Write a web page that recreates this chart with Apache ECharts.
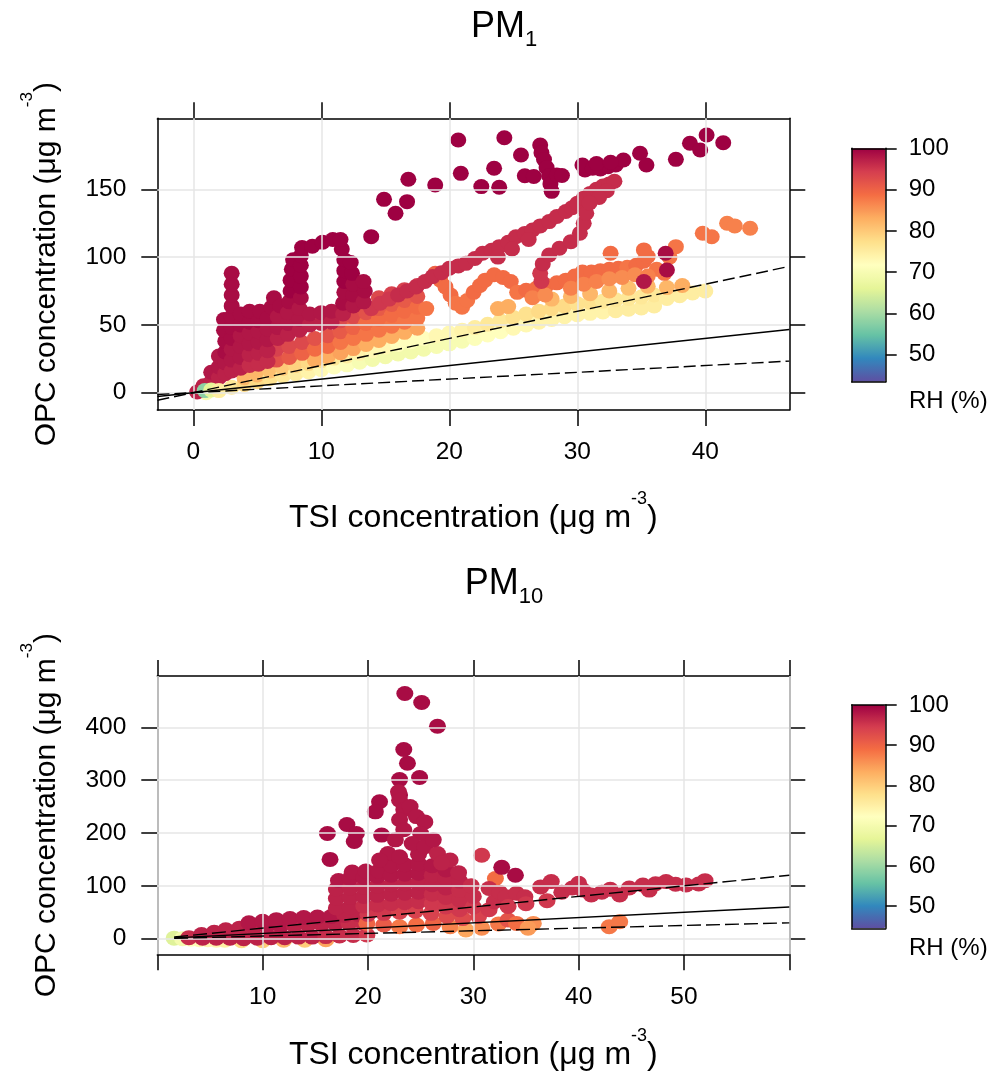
<!DOCTYPE html>
<html>
<head>
<meta charset="utf-8">
<script src="https://cdn.jsdelivr.net/npm/echarts@6/dist/echarts.min.js"></script>
<style>html,body{margin:0;padding:0;background:#fff}#c{width:995px;height:1074px}</style>
</head>
<body>
<div id="c"></div>
<script>
// ---------------- DATA ----------------
// PM1 panel: axis ranges and ticks
const pm1XRange = [-2.81, 46.56];
const pm1YRange = [-12.8, 202.4];
const pm1XTicks = [0, 10, 20, 30, 40];
const pm1YTicks = [0, 50, 100, 150];
// PM10 panel
const pm10XRange = [0, 60];
const pm10YRange = [-29.5, 497];
const pm10XTicks = [0, 10, 20, 30, 40, 50, 60];
const pm10XLabels = [10, 20, 30, 40, 50];
const pm10YTicks = [0, 100, 200, 300, 400];
// Colour bars (RH %)
const rhRange1 = [43.5, 100];
const rhRange2 = [44.5, 100];
const rhTicks = [50, 60, 70, 80, 90, 100];

// Reference lines [x, y] endpoints (1:1, 2:1, 1:2)
const pm1Line11 = [[-2.8, -2.8], [46.56, 46.56]];
const pm1Line21 = [[-2.8, -5.6], [46.56, 93.12]];
const pm1Line12 = [[-2.8, -1.4], [46.56, 23.28]];
const pm10Line11 = [[1.6, 1.6], [60, 60]];
const pm10Line21 = [[1.6, 3.2], [60, 120]];
const pm10Line12 = [[1.6, 0.8], [60, 30]];

// PM1 points: [TSI, OPC, RH]
const pm1Yellow = [
 [1,0,70],[2,2,74],[3,4,76],
 [4,6,78],[4,11,82],[5,8,78],[5,13,82],[6,10.5,77],[6,16,81],[7,12.5,76],[7,18,80],
 [8,14,75],[8,20,79],[9,15.5,74],[9,21.5,78],[10,17,73],[10,23.5,77],[11,19,72],[11,25.5,76],
 [12,20.5,71],[12,27,75],[13,22.5,70],[13,29,74],[14,24.5,69],[14,31,73],[15,26.5,69],[15,33.5,73],
 [16,28.5,69],[16,35.5,72],[17,30,69],[17,37.5,72],[18,32,69],[18,40,72],[19,34,70],[19,42,73],
 [20,36,70],[20,44,73],[21,38,70],[21,46,74],[22,40,71],[22,48,75],[23,42.5,72],[23,50.5,76],
 [24,45,72],[24,53,76],[25,47.5,73],[25,55.5,77],[26,50,73],[26,58,77],[27,52,74],[27,60,78],
 [28,54,74],[28,62,78],[29,56,74],[29,64,78],[30,57.5,74],[30,65.5,77],[31,58.5,74],[31,66.5,77],
 [32,59.5,74],[32,67.5,76],[33,60.5,75],[33,68.5,76],[34,61.5,75],[34,69.5,76],[35,62.5,75],[35,70.5,76],
 [36,64,75],[36,72,76],[37,69.5,75],[38,71.5,75],[39,73.5,75],[40,75,75]
];
const pm1Peach = [
 [9.5,24,83],[10.5,26.5,83],[11.5,29.5,84],[12.5,32.5,84],[13.5,35.5,83],[14.5,38.5,83],
 [15.5,41.5,83],[16.5,44.5,83],[17.5,47.5,84],[23.8,62,83],[24.6,63.5,83],[28,69,82],
 [29.5,71,82],[31,73,82],[32.5,75,82],[34,77,81],[35.5,78.5,82],[37,77.5,82],[38.2,79,83]
];
const pm1Red = [
 [6.5,24,92],[6.5,32,94],[7.5,26,91],[7.5,34,93],[8.5,29,90],[8.5,37,93],[9.5,32,89],[9.5,40,92],
 [10.5,34,89],[10.5,42,92],[11.5,37,88],[11.5,45,91],[11.5,53,93],[12.5,40,88],[12.5,48,90],[12.5,56,93],
 [13.5,43,88],[13.5,51,89],[13.5,59,92],[14.5,46,88],[14.5,54,89],[14.5,62,91],[14.5,70,93],
 [15.5,49,88],[15.5,57,89],[15.5,65,91],[15.5,73,94],[16.5,52,88],[16.5,60,89],[16.5,68,91],[16.5,76,94],
 [17.5,55,88],[17.5,63,89],[17.5,71,92],[17.5,79,95],[18.2,62,88]
];
const pm1Orange = [
 [18.9,88,90],[19.3,83,89],[19.7,78,89],[20.1,72,89],[20.5,66,88],[21.0,63,88],[21.4,68,88],[21.9,74,89],
 [22.4,79,89],[22.8,83,89],[23.5,87,89],[24.2,85,89],[24.8,82,89],
 [25.3,74,88],[26.0,75.5,89],[26.8,77,89],[27.6,79,89],[28.4,81,89],[29.1,83,89],[29.8,86,89],[30.4,89,89],
 [31.1,89,89],[31.8,90,89],[32.5,91,89],[33.2,91.8,89],[33.9,92.5,88],[34.6,94,89],[35.2,97,89],[35.5,100.4,89],
 [36.2,91,88],[36.8,88,88],
 [26.5,70,87],[27.5,72,86],[29.5,77,87],[30.5,80,87],[31.5,82,87],[32.5,84,86],[33.5,85,86],[34.5,87,86],[35.5,86,87],
 [32.6,102.8,89],[35.2,105.3,89],[37.7,107.7,88],[39.8,117.6,88],[40.5,115,88],[41.7,125,87],[42.3,123,87],
 [43.5,121.3,87],[37.2,100,88]
];
const pm1Pink = [
 [13.9,62,95],[14.6,66,95],[15.3,69,95],[16.0,72,96],[16.7,75,96],[17.4,78,96],[18.1,82,96],[18.7,85.6,96],
 [19.4,88.5,96],[20.0,91.8,96],[20.7,93.5,96],[21.3,95.4,96],[22.0,99,96],[22.6,102.8,96],[23.3,105,96],
 [23.9,107.7,96],[24.6,111,96],[25.2,115,96],[25.9,117.5,96],[26.5,120,96],[27.1,123,96],[27.8,126.2,96],
 [28.4,130,96],[29.1,133.6,96],[29.6,136.5,96],[30.0,139.7,96],[30.5,143.5,96],[31.0,147,96],[31.5,150,96],
 [32.0,152.5,96],[32.5,154,96],[32.9,156,96],[32.3,149,96],[31.7,144,96],
 [23.8,100,96],[24.9,106,96],[26.2,113,96],
 [27.2,82,95],[27.1,88,95],[27.3,95,96],[27.8,101.6,96],[28.6,106.5,96],[29.5,111.4,96],[30.2,117.6,96],
 [30.5,124.9,96],[30.7,132.3,96],[30.95,140,96]
];
const pm1Dark = [
 [0.8,5,97],[1.4,8,97],[1.4,15,98],[2.0,11,97],[2.0,19,98],[2.0,27,98],
 [2.5,14,97],[2.5,22,98],[2.5,30,99],[2.5,38,99],[2.4,46,99],[2.4,54,99],
 [3.0,16,97],[3.0,24,98],[3.0,32,98],[3.0,40,99],[3.0,48,99],[3.0,56,99],[3.0,64,99],[3.0,72,99],[3.0,80,99],[3.0,88,99],
 [3.7,18,97],[3.7,26,98],[3.7,34,98],[3.7,42,98],[3.7,50,99],[3.7,58,99],
 [4.4,20,96],[4.4,28,97],[4.4,36,98],[4.4,44,98],[4.4,52,99],[4.4,60,99],
 [5.1,21,96],[5.1,29,97],[5.1,37,98],[5.1,45,98],[5.1,53,99],[5.2,60,99],
 [5.8,23,96],[5.8,31,97],[5.8,39,98],[5.8,47,98],[5.8,55,99],[6.1,63,99],[6.3,70,99],
 [6.6,40,97],[6.6,48,98],[6.6,56,98],[6.8,64,99],
 [7.4,43,97],[7.4,51,98],[7.4,59,98],[7.5,67,99],[7.6,75,100],[7.6,83,100],[7.7,91,100],[7.8,98,100],
 [8.3,46,97],[8.3,54,98],[8.3,62,98],[8.4,70,99],[8.4,78,100],[8.4,86,100],[8.4,94,100],[8.4,101,100],[8.5,107,100],
 [9.1,50,97],[9.1,58,98],[9.3,108,100],[10.0,51,97],[10.0,59,98],[10.1,111,100],
 [10.8,52,97],[10.8,60,98],[10.9,113,100],
 [11.7,58,97],[11.7,66,99],[11.8,74,99],[11.8,82,100],[11.8,90,100],[11.8,98,100],[11.6,106,100],[11.5,113,100],
 [12.5,64,98],[12.5,72,99],[12.5,80,99],[12.4,88,100],[12.3,96,100],
 [13.3,67,98],[13.4,75,99],[13.3,82,99]
];
const pm1Top = [
 [20.7,186.4,100],[24.3,188.1,100],[25.6,175.3,100],[27.1,182.7,100],[27.2,177,100],[27.4,172,100],[27.6,166,100],
 [27.8,160,100],[27.9,154,100],[28.0,148.5,100],[25.9,160,100],[26.6,159.5,100],[28.4,160.6,100],[28.8,160.2,100],
 [23.5,165.5,100],[20.9,161.8,100],[22.5,152,100],[23.9,151.5,100],[18.9,153.2,100],[16.8,157.4,100],[14.9,142.6,100],
 [16.7,140.9,100],[15.8,132.3,100],[13.9,115.1,100],
 [30.6,164.3,100],[30.4,168,100],[31.2,165.5,100],[31.8,165,100],[32.4,166.7,100],[33.0,168,100],[33.6,171.6,100],
 [31.5,169,100],[32.6,170,100],[34.9,176.6,100],[35.4,168,100],[37.7,172.1,100],[38.8,184,100],[39.6,179,100],
 [40.1,190.1,100],[41.4,184.4,100],
 [36.9,102.8,99],[37.0,90.5,99],[35.2,82,98]
];
const pm1Origin = [[0.3,0.5,97],[0.9,1.5,58],[1.4,2,66],[2.0,1.5,75]];

// PM10 points: [TSI, OPC, RH]
const pm10Yellow = [
 [1.6,1,66],[2.4,0,70],[3.2,-1,72],[4.0,-2,73],[4.8,-2,74],[5.6,-3,74],[6.4,-3,75],
 [8,-4,78],[10,-4,80],[12,-3,82],[14,-3,80],[16,-2,84]
];
const pm10Band = [
 [3,2,96],[4.3,1,97],[5.6,1,97],[6.9,1,97],[8.2,0,97],[9.5,1,97],[10.8,2,97],[12.1,2,97],[13.4,3,97],
 [14.7,3,97],[16,4,96],[17.3,5,96],[18.6,6,96],[19.9,7,95],
 [4.2,8,97],[5.4,12,97],[6.5,17,97],[7.8,20,97],[9.1,22,97],[10.4,23,98],[11.7,24,98],[13,25,97],
 [14.3,26,97],[15.6,27,97],[16.9,28,97],[18.2,29,96],[19.5,30,96],
 [8.7,30,98],[10,33,98],[11.3,36,98],[12.6,38,98],[13.9,40,98],[15.2,41,98],[16.5,42,98],[17.8,44,97],[19.1,46,97]
];
const pm10Orange = [
 [19.9,29,90],[21.5,26,91],[23,22.7,88],[24.6,26,89],[26.2,29,90],[27.8,22.7,87],[29.3,16.4,84],[30.8,20,86],
 [32.4,28,88],[33.3,35.3,92],[34.1,29,89],[35.7,29,86],[35.2,20,85],[32.1,114,89],[42.9,22.7,88],[43.9,32,88]
];
const pm10Blob = [
 [20,46,95],[21.5,48,95],[23,50,94],[24.5,52,94],[26,48,94],[27.5,42,93],[29,38,93],[30.5,42,94],[31.5,55,95],[32,70,96],
 [17,58,97],[17,76,97],[17,94,97],[17.2,110,98],
 [18.3,60,97],[18.3,78,97],[18.3,96,97],[18.3,114,98],[18.5,126,98],
 [19.6,62,96],[19.6,80,97],[19.6,98,97],[19.6,116,98],[19.8,128,98],
 [20.9,64,96],[20.9,82,97],[20.9,100,97],[20.9,118,98],[21.0,128,98],
 [22.2,66,96],[22.2,84,97],[22.2,102,97],[22.2,120,98],[22.2,138,98],
 [23.5,68,96],[23.5,86,97],[23.5,104,97],[23.5,122,98],[23.5,140,98],
 [24.8,70,96],[24.8,88,97],[24.8,106,97],[24.8,124,98],[24.8,142,98],[24.8,160,98],
 [26.1,66,95],[26.1,84,96],[26.1,102,97],[26.1,120,97],[26.1,138,98],
 [27.4,60,95],[27.4,78,96],[27.4,96,97],[27.4,114,97],[27.4,130,98],
 [28.7,55,95],[28.7,73,96],[28.7,91,96],[28.7,109,97],[28.6,125,97],
 [30,60,95],[30,80,96],[29.8,100,96]
];
const pm10Right = [
 [31.5,95,96],[32.5,88,96],[33.1,79.5,96],[34.1,86,96],[34.9,79.5,96],[33.3,61,95],[35.0,66,95],[36.4,98,96],
 [37.4,108,96],[37.0,72,95],[38.4,88,96],[39.4,96,96],[40.0,104.7,96],[40.4,92,96],[41.2,82.7,96],[42.2,88,96],
 [43.0,93.4,96],[43.9,82.7,96],[44.8,96,96],[46.1,101.6,96],[46.7,92,96],[47.3,104,96],[48.3,108,96],
 [49.2,103,96],[50.2,101.6,96],[51.4,103.5,96],[52,109.8,96]
];
const pm10High = [
 [23.5,464,99],[25.1,447,99],[26.6,402,99],[23.4,358,99],[23.75,332,99],[23.0,301,99],[24.9,305,99],
 [23.0,272,99],[21.1,259,99],[20.7,240,99],[18.0,216,99],[18.9,199,99],[16.15,199,99],[21.3,196,99],
 [18.7,184,99],[16.4,150,99],
 [22.9,278,98],[23.0,262,98],[23.4,244,98],[24.0,250,98],[24.6,231,98],[25.4,221,98],[23.0,225,98],
 [23.4,206,98],[25.0,199,98],[22.6,187,98],[24.2,180,98],[25.4,174,98],[26.6,161,97],[27.8,149,97],
 [27.0,143,97],[21.9,161,98],[23.0,155,98],[21.1,149,98],[26.2,187,98],
 [30.8,158,95],[32.7,135,99],[34.0,120,99]
];

// ---------------- CHART ----------------
const FONT = '"Liberation Sans", Arial, Helvetica, sans-serif';
const BLACK = '#000';
const spectral = ['#5E4FA2','#3288BD','#66C2A5','#ABDDA4','#E6F598','#FFFFBF','#FEE08B','#FDAE61','#F46D43','#D53E4F','#9E0142'];

const pm1Points = [].concat(pm1Yellow, pm1Peach, pm1Red, pm1Orange, pm1Pink, pm1Dark, pm1Top, pm1Origin);
const pm10Points = [].concat(pm10Yellow, pm10Band, pm10Orange, pm10Blob, pm10Right, pm10High);

const axLine = () => ({show: true, onZero: false, lineStyle: {color: BLACK, width: 1.5}});
const tick = (vals, len) => ({show: true, length: len, customValues: vals, lineStyle: {color: BLACK, width: 1.5}});
const label = (vals, margin, size) => ({show: true, margin: margin, customValues: vals, fontSize: size, fontFamily: FONT, color: BLACK});
const noLabel = {show: false};
const noSplit = {show: false};

const xNameStyle = {
  fontFamily: FONT, color: BLACK,
  rich: {
    n: {fontSize: 32, lineHeight: 44, verticalAlign: 'bottom', fontFamily: FONT, color: BLACK},
    s: {fontSize: 18, lineHeight: 16, verticalAlign: 'top', fontFamily: FONT, color: BLACK}
  }
};
const yNameStyle = {
  fontFamily: FONT, color: BLACK,
  rich: {
    n: {fontSize: 30, lineHeight: 42, verticalAlign: 'bottom', fontFamily: FONT, color: BLACK},
    s: {fontSize: 17, lineHeight: 16, verticalAlign: 'top', fontFamily: FONT, color: BLACK}
  }
};
const xName = '{n|TSI concentration (μg m}{s|-3}{n|)}';
const yName = '{n|OPC concentration (μg m}{s|-3}{n|)}';

function mainX(gi, range, ticks, labels, gap) {
  return [
    {gridIndex: gi, type: 'value', position: 'bottom', min: range[0], max: range[1],
     axisLine: axLine(), axisTick: tick(ticks, 16), axisLabel: label(labels, 30, 24.5), splitLine: noSplit,
     name: xName, nameLocation: 'middle', nameGap: gap, nameTextStyle: xNameStyle},
    {gridIndex: gi, type: 'value', position: 'top', min: range[0], max: range[1],
     axisLine: axLine(), axisTick: tick(ticks, 16), axisLabel: noLabel, splitLine: noSplit}
  ];
}
function mainY(gi, range, ticks) {
  return [
    {gridIndex: gi, type: 'value', position: 'left', min: range[0], max: range[1],
     axisLine: axLine(), axisTick: tick(ticks, 16), axisLabel: label(ticks, 31, 24.5), splitLine: noSplit,
     name: yName, nameLocation: 'middle', nameGap: 96, nameRotate: 90, nameTextStyle: yNameStyle},
    {gridIndex: gi, type: 'value', position: 'right', min: range[0], max: range[1],
     axisLine: axLine(), axisTick: tick(ticks, 16), axisLabel: noLabel, splitLine: noSplit}
  ];
}
function barX(gi) {
  return ['bottom', 'top'].map(p => ({gridIndex: gi, type: 'value', position: p, min: 0, max: 1, z: 10,
    axisLine: axLine(), axisTick: {show: false}, axisLabel: noLabel, splitLine: noSplit}));
}
function barY(gi, range) {
  return [
    {gridIndex: gi, type: 'value', position: 'left', min: range[0], max: range[1], z: 10,
     axisLine: axLine(), axisTick: {show: false}, axisLabel: noLabel, splitLine: noSplit},
    {gridIndex: gi, type: 'value', position: 'right', min: range[0], max: range[1], z: 10,
     axisLine: axLine(), axisTick: tick(rhTicks, 11), axisLabel: label(rhTicks, 23, 24), splitLine: noSplit}
  ];
}
function gridLines(xi, yi, xt, yt) {
  return {type: 'scatter', xAxisIndex: xi, yAxisIndex: yi, data: [], silent: true, z: 1,
    markLine: {silent: true, symbol: ['none', 'none'], label: {show: false}, animation: false,
      lineStyle: {color: '#e6e6e6', width: 1.5, type: 'solid'},
      data: xt.map(v => ({xAxis: v})).concat(yt.map(v => ({yAxis: v})))}};
}
function refLine(xi, yi, data, type) {
  return {type: 'line', xAxisIndex: xi, yAxisIndex: yi, data: data, symbol: 'none', showSymbol: false,
    silent: true, z: 5, lineStyle: {color: BLACK, width: 1.4, type: type}};
}
function scatter(xi, yi, data, size) {
  return {type: 'scatter', xAxisIndex: xi, yAxisIndex: yi, data: data, symbol: 'circle', symbolSize: size,
    silent: true, z: 2, itemStyle: {opacity: 1}};
}
const titleRich = {
  a: {fontSize: 36, lineHeight: 42, verticalAlign: 'top', fontFamily: FONT, color: BLACK, fontWeight: 'normal'},
  b: {fontSize: 22, lineHeight: 20, verticalAlign: 'bottom', fontFamily: FONT, color: BLACK, fontWeight: 'normal'}
};

const option = {
  backgroundColor: '#fff',
  animation: false,
  title: [
    {text: '{a|PM}{b|1}', left: 504, top: 8.7, textAlign: 'center', padding: 0, textStyle: {rich: titleRich}},
    {text: '{a|PM}{b|10}', left: 504, top: 566.4, textAlign: 'center', padding: 0, textStyle: {rich: titleRich}},
    {text: 'RH (%)', left: 909, top: 389, padding: 0, textStyle: {fontSize: 24, fontWeight: 'normal', fontFamily: FONT, color: BLACK}},
    {text: 'RH (%)', left: 909, top: 936, padding: 0, textStyle: {fontSize: 24, fontWeight: 'normal', fontFamily: FONT, color: BLACK}}
  ],
  grid: [
    {left: 157.3, top: 118.3, width: 632, height: 291.7, outerBoundsMode: 'none'},
    {left: 157.3, top: 676, width: 632, height: 278.3, outerBoundsMode: 'none'},
    {left: 851.7, top: 148.3, width: 34, height: 233.4, outerBoundsMode: 'none'},
    {left: 851.7, top: 705, width: 34, height: 223.3, outerBoundsMode: 'none'}
  ],
  xAxis: [].concat(mainX(0, pm1XRange, pm1XTicks, pm1XTicks, 80.5), mainX(1, pm10XRange, pm10XTicks, pm10XLabels, 72.5), barX(2), barX(3)),
  yAxis: [].concat(mainY(0, pm1YRange, pm1YTicks), mainY(1, pm10YRange, pm10YTicks), barY(2, rhRange1), barY(3, rhRange2)),
  visualMap: [
    {type: 'continuous', seriesIndex: 1, dimension: 2, min: rhRange1[0], max: rhRange1[1], inRange: {color: spectral},
     calculable: false, hoverLink: false, orient: 'vertical', left: 851.7, top: 148.3, itemWidth: 34, itemHeight: 233.4, padding: 0, text: null},
    {type: 'continuous', seriesIndex: 6, dimension: 2, min: rhRange2[0], max: rhRange2[1], inRange: {color: spectral},
     calculable: false, hoverLink: false, orient: 'vertical', left: 851.7, top: 705, itemWidth: 34, itemHeight: 223.3, padding: 0, text: null}
  ],
  series: [
    gridLines(0, 0, pm1XTicks, pm1YTicks),
    scatter(0, 0, pm1Points, [16, 15]),
    refLine(0, 0, pm1Line11, 'solid'),
    refLine(0, 0, pm1Line21, [12, 5]),
    refLine(0, 0, pm1Line12, [12, 5]),
    gridLines(2, 2, pm10XTicks, pm10YTicks),
    scatter(2, 2, pm10Points, [17, 15]),
    refLine(2, 2, pm10Line11, 'solid'),
    refLine(2, 2, pm10Line21, [14, 5]),
    refLine(2, 2, pm10Line12, [14, 5])
  ]
};
const chart = echarts.init(document.getElementById('c'), null, {renderer: 'canvas'});
chart.setOption(option);
</script>
</body>
</html>
